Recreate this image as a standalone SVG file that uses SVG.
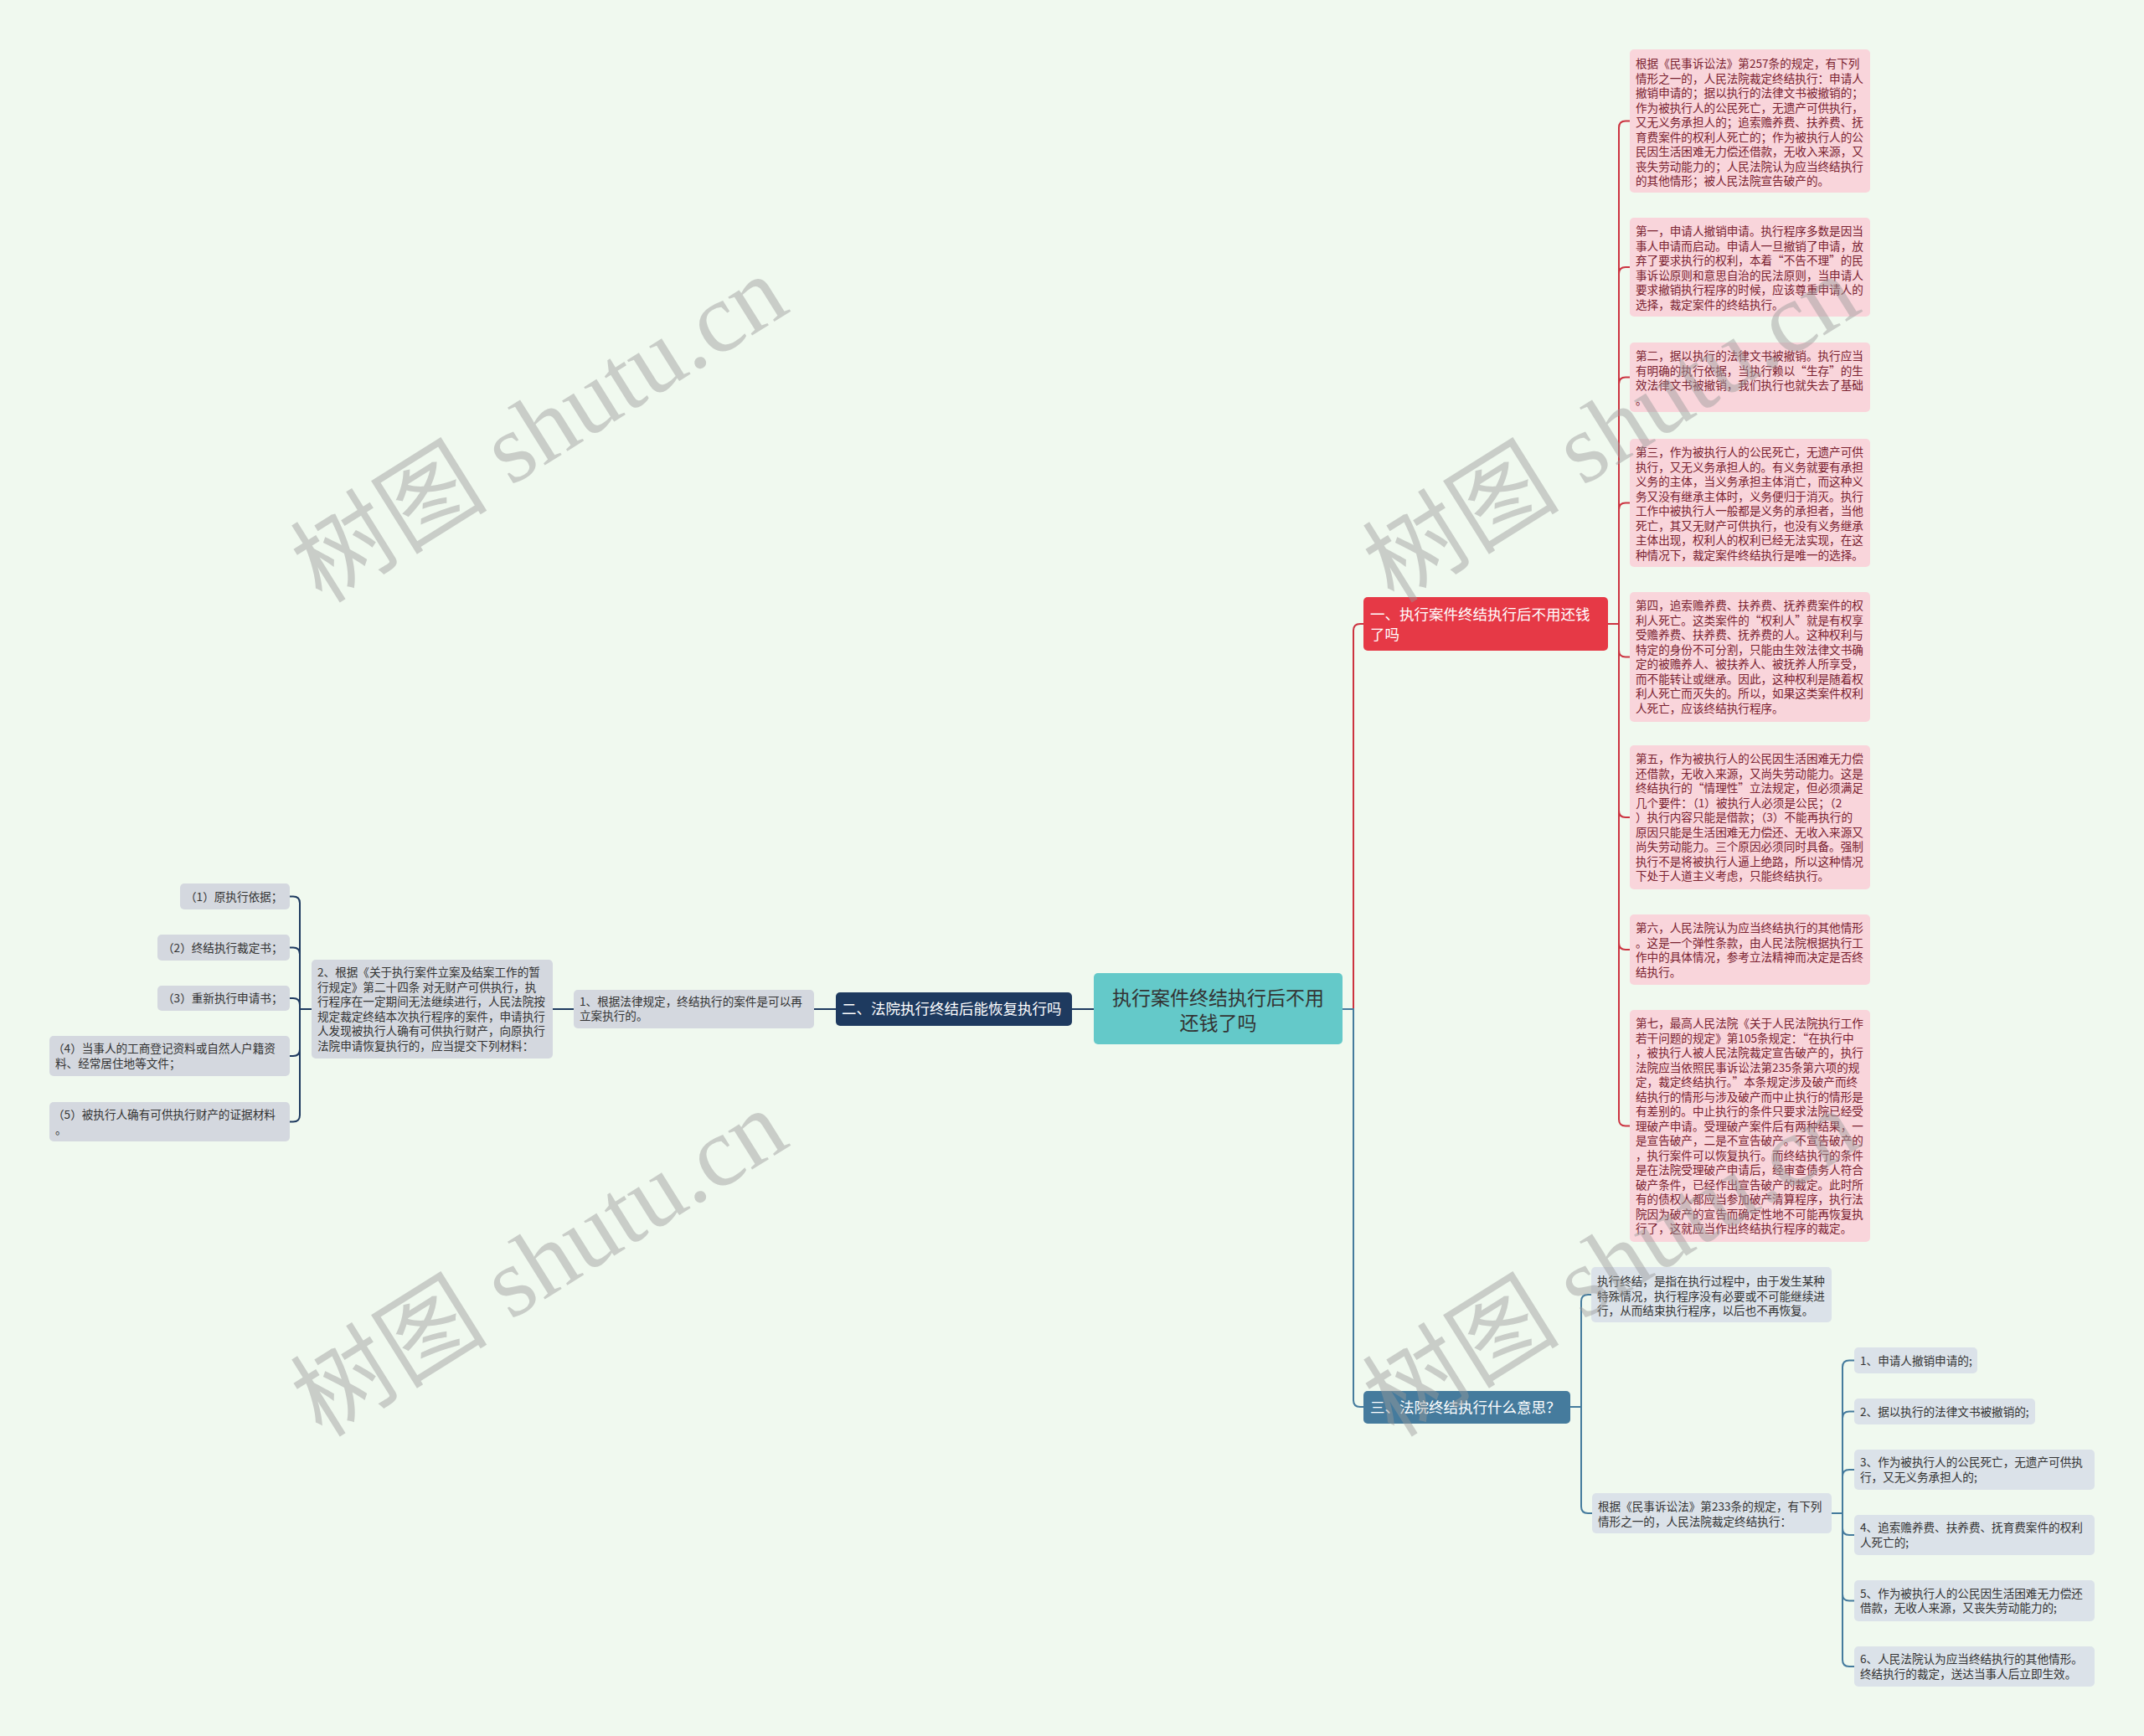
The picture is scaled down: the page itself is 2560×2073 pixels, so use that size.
<svg xmlns="http://www.w3.org/2000/svg" width="2560" height="2073" viewBox="0 0 2560 2073">
<style>
text{font-family:"Noto Sans CJK SC","Noto Sans",sans-serif;}
.t{font-size:13.6px;fill:#333;}
.tp{font-size:13.6px;fill:#7a2230;}
.h{font-size:17.5px;fill:#fff;}
.c{font-size:23px;fill:#333;}
.pink{fill:#f9d5db;}
.gl{fill:#d4d8df;}
.gr{fill:#dbe2e9;}
.cl{fill:none;stroke:#1e3a5f;stroke-width:2;}
.cr{fill:none;stroke:#cc3340;stroke-width:2;}
.cb{fill:none;stroke:#457b9d;stroke-width:2;}
.wm{font-family:"Liberation Serif","Noto Sans CJK SC",serif;font-size:118px;fill:#9a9a9a;opacity:0.45;}
</style>
<rect width="2560" height="2073" fill="#f0f9ef"/>

<g id="connectors">
  <!-- left side -->
  <path class="cl" d="M1306,1205 H1280"/>
  <path class="cl" d="M998,1205 H972"/>
  <path class="cl" d="M685,1205 H660"/>
  <path class="cl" d="M372,1205 H358"/>
  <path class="cl" d="M358,1205 V1078.5 Q358,1070.5 350,1070.5 H346"/>
  <path class="cl" d="M358,1205 V1139.5 Q358,1131.5 350,1131.5 H346"/>
  <path class="cl" d="M358,1205 V1200 Q358,1192 350,1192 H346"/>
  <path class="cl" d="M358,1205 V1253 Q358,1261 350,1261 H346"/>
  <path class="cl" d="M358,1205 V1331.5 Q358,1339.5 350,1339.5 H346"/>
  <!-- right top (red) -->
  <path class="cr" d="M1603,1205 H1616 V753 Q1616,745 1624,745 H1628"/>
  <path class="cr" d="M1920,745 H1933 V152.5 Q1933,144.5 1941,144.5 H1946"/>
  <path class="cr" d="M1933,745 V327 Q1933,319 1941,319 H1946"/>
  <path class="cr" d="M1933,745 V458.5 Q1933,450.5 1941,450.5 H1946"/>
  <path class="cr" d="M1933,745 V608.5 Q1933,600.5 1941,600.5 H1946"/>
  <path class="cr" d="M1933,745 V776.5 Q1933,784.5 1941,784.5 H1946"/>
  <path class="cr" d="M1933,745 V968 Q1933,976 1941,976 H1946"/>
  <path class="cr" d="M1933,745 V1126 Q1933,1134 1941,1134 H1946"/>
  <path class="cr" d="M1933,745 V1336.5 Q1933,1344.5 1941,1344.5 H1946"/>
  <!-- right bottom (blue) -->
  <path class="cb" d="M1603,1205 H1616 V1672 Q1616,1680 1624,1680 H1628"/>
  <path class="cb" d="M1875,1680 H1888 V1554 Q1888,1546 1896,1546 H1900"/>
  <path class="cb" d="M1888,1680 V1799 Q1888,1807 1896,1807 H1901"/>
  <path class="cb" d="M2187,1807 H2200 V1632.5 Q2200,1624.5 2208,1624.5 H2214"/>
  <path class="cb" d="M2200,1807 V1693.5 Q2200,1685.5 2208,1685.5 H2214"/>
  <path class="cb" d="M2200,1807 V1763 Q2200,1755 2208,1755 H2214"/>
  <path class="cb" d="M2200,1807 V1825 Q2200,1833 2208,1833 H2214"/>
  <path class="cb" d="M2200,1807 V1903.5 Q2200,1911.5 2208,1911.5 H2214"/>
  <path class="cb" d="M2200,1807 V1982 Q2200,1990 2208,1990 H2214"/>
</g>

<g id="center">
  <rect x="1306" y="1162" width="297" height="85" rx="5" fill="#64c9c9"/>
  <text class="c" x="1454.5" y="1200" text-anchor="middle">执行案件终结执行后不用</text>
  <text class="c" x="1454.5" y="1230" text-anchor="middle">还钱了吗</text>
</g>

<g id="b1">
  <rect x="1628" y="713" width="292" height="64" rx="5" fill="#e63946"/>
  <text class="h" x="1636" y="740">一、执行案件终结执行后不用还钱</text>
  <text class="h" x="1636" y="764">了吗</text>
</g>

<g id="b2">
  <rect x="998" y="1185" width="282" height="40" rx="5" fill="#1e3a5f"/>
  <text class="h" x="1005" y="1211">二、法院执行终结后能恢复执行吗</text>
</g>

<g id="b3">
  <rect x="1628" y="1661" width="247" height="39" rx="5" fill="#457b9d"/>
  <text class="h" x="1636" y="1687">三、法院终结执行什么意思？</text>
</g>

<g id="p1">
  <rect class="pink" x="1946" y="59" width="287" height="171" rx="5"/>
  <text class="tp" x="1953" y="81">根据《民事诉讼法》第257条的规定，有下列</text>
  <text class="tp" x="1953" y="98.5">情形之一的，人民法院裁定终结执行：申请人</text>
  <text class="tp" x="1953" y="116">撤销申请的；据以执行的法律文书被撤销的；</text>
  <text class="tp" x="1953" y="133.5">作为被执行人的公民死亡，无遗产可供执行，</text>
  <text class="tp" x="1953" y="151">又无义务承担人的；追索赡养费、扶养费、抚</text>
  <text class="tp" x="1953" y="168.5">育费案件的权利人死亡的；作为被执行人的公</text>
  <text class="tp" x="1953" y="186">民因生活困难无力偿还借款，无收入来源，又</text>
  <text class="tp" x="1953" y="203.5">丧失劳动能力的；人民法院认为应当终结执行</text>
  <text class="tp" x="1953" y="221">的其他情形；被人民法院宣告破产的。</text>
</g>

<g id="p2">
  <rect class="pink" x="1946" y="260" width="287" height="118" rx="5"/>
  <text class="tp" x="1953" y="281">第一，申请人撤销申请。执行程序多数是因当</text>
  <text class="tp" x="1953" y="298.5">事人申请而启动。申请人一旦撤销了申请，放</text>
  <text class="tp" x="1953" y="316">弃了要求执行的权利，本着“不告不理”的民</text>
  <text class="tp" x="1953" y="333.5">事诉讼原则和意思自治的民法原则，当申请人</text>
  <text class="tp" x="1953" y="351">要求撤销执行程序的时候，应该尊重申请人的</text>
  <text class="tp" x="1953" y="368.5">选择，裁定案件的终结执行。</text>
</g>

<g id="p3">
  <rect class="pink" x="1946" y="409" width="287" height="83" rx="5"/>
  <text class="tp" x="1953" y="430">第二，据以执行的法律文书被撤销。执行应当</text>
  <text class="tp" x="1953" y="447.5">有明确的执行依据，当执行赖以“生存”的生</text>
  <text class="tp" x="1953" y="465">效法律文书被撤销，我们执行也就失去了基础</text>
  <text class="tp" x="1953" y="482.5">。</text>
</g>

<g id="p4">
  <rect class="pink" x="1946" y="524" width="287" height="153" rx="5"/>
  <text class="tp" x="1953" y="545">第三，作为被执行人的公民死亡，无遗产可供</text>
  <text class="tp" x="1953" y="562.5">执行，又无义务承担人的。有义务就要有承担</text>
  <text class="tp" x="1953" y="580">义务的主体，当义务承担主体消亡，而这种义</text>
  <text class="tp" x="1953" y="597.5">务又没有继承主体时，义务便归于消灭。执行</text>
  <text class="tp" x="1953" y="615">工作中被执行人一般都是义务的承担者，当他</text>
  <text class="tp" x="1953" y="632.5">死亡，其又无财产可供执行，也没有义务继承</text>
  <text class="tp" x="1953" y="650">主体出现，权利人的权利已经无法实现，在这</text>
  <text class="tp" x="1953" y="667.5">种情况下，裁定案件终结执行是唯一的选择。</text>
</g>

<g id="p5">
  <rect class="pink" x="1946" y="707" width="287" height="155" rx="5"/>
  <text class="tp" x="1953" y="728">第四，追索赡养费、扶养费、抚养费案件的权</text>
  <text class="tp" x="1953" y="745.5">利人死亡。这类案件的“权利人”就是有权享</text>
  <text class="tp" x="1953" y="763">受赡养费、扶养费、抚养费的人。这种权利与</text>
  <text class="tp" x="1953" y="780.5">特定的身份不可分割，只能由生效法律文书确</text>
  <text class="tp" x="1953" y="798">定的被赡养人、被扶养人、被抚养人所享受，</text>
  <text class="tp" x="1953" y="815.5">而不能转让或继承。因此，这种权利是随着权</text>
  <text class="tp" x="1953" y="833">利人死亡而灭失的。所以，如果这类案件权利</text>
  <text class="tp" x="1953" y="850.5">人死亡，应该终结执行程序。</text>
</g>

<g id="p6">
  <rect class="pink" x="1946" y="890" width="287" height="172" rx="5"/>
  <text class="tp" x="1953" y="911">第五，作为被执行人的公民因生活困难无力偿</text>
  <text class="tp" x="1953" y="928.5">还借款，无收入来源，又尚失劳动能力。这是</text>
  <text class="tp" x="1953" y="946">终结执行的“情理性”立法规定，但必须满足</text>
  <text class="tp" x="1953" y="963.5">几个要件：（1）被执行人必须是公民；（2</text>
  <text class="tp" x="1953" y="981">）执行内容只能是借款；（3）不能再执行的</text>
  <text class="tp" x="1953" y="998.5">原因只能是生活困难无力偿还、无收入来源又</text>
  <text class="tp" x="1953" y="1016">尚失劳动能力。三个原因必须同时具备。强制</text>
  <text class="tp" x="1953" y="1033.5">执行不是将被执行人逼上绝路，所以这种情况</text>
  <text class="tp" x="1953" y="1051">下处于人道主义考虑，只能终结执行。</text>
</g>

<g id="p7">
  <rect class="pink" x="1946" y="1092" width="287" height="84" rx="5"/>
  <text class="tp" x="1953" y="1113">第六，人民法院认为应当终结执行的其他情形</text>
  <text class="tp" x="1953" y="1130.5">。这是一个弹性条款，由人民法院根据执行工</text>
  <text class="tp" x="1953" y="1148">作中的具体情况，参考立法精神而决定是否终</text>
  <text class="tp" x="1953" y="1165.5">结执行。</text>
</g>

<g id="p8">
  <rect class="pink" x="1946" y="1206" width="287" height="277" rx="5"/>
  <text class="tp" x="1953" y="1227">第七，最高人民法院《关于人民法院执行工作</text>
  <text class="tp" x="1953" y="1244.5">若干问题的规定》第105条规定：“在执行中</text>
  <text class="tp" x="1953" y="1262">，被执行人被人民法院裁定宣告破产的，执行</text>
  <text class="tp" x="1953" y="1279.5">法院应当依照民事诉讼法第235条第六项的规</text>
  <text class="tp" x="1953" y="1297">定，裁定终结执行。”本条规定涉及破产而终</text>
  <text class="tp" x="1953" y="1314.5">结执行的情形与涉及破产而中止执行的情形是</text>
  <text class="tp" x="1953" y="1332">有差别的。中止执行的条件只要求法院已经受</text>
  <text class="tp" x="1953" y="1349.5">理破产申请。受理破产案件后有两种结果，一</text>
  <text class="tp" x="1953" y="1367">是宣告破产，二是不宣告破产。不宣告破产的</text>
  <text class="tp" x="1953" y="1384.5">，执行案件可以恢复执行。而终结执行的条件</text>
  <text class="tp" x="1953" y="1402">是在法院受理破产申请后，经审查债务人符合</text>
  <text class="tp" x="1953" y="1419.5">破产条件，已经作出宣告破产的裁定。此时所</text>
  <text class="tp" x="1953" y="1437">有的债权人都应当参加破产清算程序，执行法</text>
  <text class="tp" x="1953" y="1454.5">院因为破产的宣告而确定性地不可能再恢复执</text>
  <text class="tp" x="1953" y="1472">行了，这就应当作出终结执行程序的裁定。</text>
</g>

<g id="l1">
  <rect class="gl" x="685" y="1182" width="287" height="46" rx="5"/>
  <text class="t" x="692" y="1201">1、根据法律规定，终结执行的案件是可以再</text>
  <text class="t" x="692" y="1218">立案执行的。</text>
</g>

<g id="l2">
  <rect class="gl" x="372" y="1146" width="288" height="118" rx="5"/>
  <text class="t" x="379" y="1166">2、根据《关于执行案件立案及结案工作的暂</text>
  <text class="t" x="379" y="1183.5">行规定》第二十四条 对无财产可供执行，执</text>
  <text class="t" x="379" y="1201">行程序在一定期间无法继续进行，人民法院按</text>
  <text class="t" x="379" y="1218.5">规定裁定终结本次执行程序的案件，申请执行</text>
  <text class="t" x="379" y="1236">人发现被执行人确有可供执行财产，向原执行</text>
  <text class="t" x="379" y="1253.5">法院申请恢复执行的，应当提交下列材料：</text>
</g>

<g id="leaf1">
  <rect class="gl" x="215" y="1055" width="131" height="31" rx="5"/>
  <text class="t" x="221" y="1075.5">（1）原执行依据；</text>
</g>
<g id="leaf2">
  <rect class="gl" x="188" y="1116" width="158" height="31" rx="5"/>
  <text class="t" x="194" y="1136.5">（2）终结执行裁定书；</text>
</g>
<g id="leaf3">
  <rect class="gl" x="188" y="1177" width="158" height="30" rx="5"/>
  <text class="t" x="194" y="1197">（3）重新执行申请书；</text>
</g>
<g id="leaf4">
  <rect class="gl" x="59" y="1237" width="287" height="48" rx="5"/>
  <text class="t" x="63" y="1257">（4）当事人的工商登记资料或自然人户籍资</text>
  <text class="t" x="66" y="1274.5">料、经常居住地等文件；</text>
</g>
<g id="leaf5">
  <rect class="gl" x="59" y="1316" width="287" height="47" rx="5"/>
  <text class="t" x="63" y="1336">（5）被执行人确有可供执行财产的证据材料</text>
  <text class="t" x="66" y="1353.5">。</text>
</g>

<g id="r1">
  <rect class="gr" x="1900" y="1513" width="287" height="66" rx="5"/>
  <text class="t" x="1907" y="1535">执行终结，是指在执行过程中，由于发生某种</text>
  <text class="t" x="1907" y="1552.5">特殊情况，执行程序没有必要或不可能继续进</text>
  <text class="t" x="1907" y="1570">行，从而结束执行程序，以后也不再恢复。</text>
</g>
<g id="r2">
  <rect class="gr" x="1901" y="1783" width="286" height="48" rx="5"/>
  <text class="t" x="1908" y="1804">根据《民事诉讼法》第233条的规定，有下列</text>
  <text class="t" x="1908" y="1821.5">情形之一的，人民法院裁定终结执行：</text>
</g>
<g id="s1">
  <rect class="gr" x="2214" y="1609" width="147" height="31" rx="5"/>
  <text class="t" x="2221" y="1629.5">1、申请人撤销申请的;</text>
</g>
<g id="s2">
  <rect class="gr" x="2214" y="1670" width="216" height="31" rx="5"/>
  <text class="t" x="2221" y="1690.5">2、据以执行的法律文书被撤销的;</text>
</g>
<g id="s3">
  <rect class="gr" x="2214" y="1731" width="287" height="48" rx="5"/>
  <text class="t" x="2221" y="1751">3、作为被执行人的公民死亡，无遗产可供执</text>
  <text class="t" x="2221" y="1768.5">行，又无义务承担人的;</text>
</g>
<g id="s4">
  <rect class="gr" x="2214" y="1809" width="287" height="48" rx="5"/>
  <text class="t" x="2221" y="1829">4、追索赡养费、扶养费、抚育费案件的权利</text>
  <text class="t" x="2221" y="1846.5">人死亡的;</text>
</g>
<g id="s5">
  <rect class="gr" x="2214" y="1887" width="287" height="49" rx="5"/>
  <text class="t" x="2221" y="1907.5">5、作为被执行人的公民因生活困难无力偿还</text>
  <text class="t" x="2221" y="1925">借款，无收人来源，又丧失劳动能力的;</text>
</g>
<g id="s6">
  <rect class="gr" x="2214" y="1966" width="287" height="48" rx="5"/>
  <text class="t" x="2221" y="1986">6、人民法院认为应当终结执行的其他情形。</text>
  <text class="t" x="2221" y="2003.5">终结执行的裁定，送达当事人后立即生效。</text>
</g>

<g id="watermarks">
  <text class="wm" x="645" y="552" text-anchor="middle" transform="rotate(-32 645 514)">树图 shutu.cn</text>
  <text class="wm" x="645" y="1548" text-anchor="middle" transform="rotate(-32 645 1510)">树图 shutu.cn</text>
  <text class="wm" x="1925" y="552" text-anchor="middle" transform="rotate(-32 1925 514)">树图 shutu.cn</text>
  <text class="wm" x="1925" y="1548" text-anchor="middle" transform="rotate(-32 1925 1510)">树图 shutu.cn</text>
</g>
</svg>
